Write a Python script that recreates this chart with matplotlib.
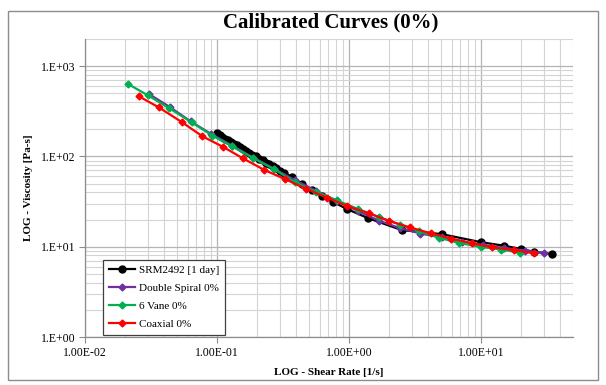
import matplotlib
matplotlib.use("Agg")
import matplotlib.pyplot as plt
from matplotlib.ticker import LogLocator, FuncFormatter, NullFormatter
from matplotlib.patches import Rectangle

plt.rcParams['font.family'] = ['Liberation Serif', 'DejaVu Serif']

title = "Calibrated Curves (0%)"
xlabel = "LOG - Shear Rate [1/s]"
ylabel = "LOG - Viscosity [Pa-s]"
series_names = ["SRM2492 [1 day]", "Double Spiral 0%", "6 Vane 0%", "Coaxial 0%"]

srm_x = [0.10, 0.105, 0.11, 0.116, 0.122, 0.128, 0.135, 0.142, 0.15, 0.158, 0.167,
         0.176, 0.186, 0.197, 0.21, 0.222, 0.236, 0.25, 0.265, 0.28, 0.30, 0.32,
         0.372, 0.442, 0.526, 0.625, 0.757, 0.966, 1.39, 2.51, 5.04, 10.1, 15.0,
         20.2, 25.3, 34.7]
srm_y = [180, 173, 166, 158, 152, 145.5, 139, 133, 127, 121, 116,
         110, 105, 100, 94.8, 90.4, 85.7, 81.6, 77.6, 74, 69.7, 65.9,
         59.5, 49.7, 42.7, 36.6, 31.4, 26.2, 20.8, 15.3, 13.8, 11.2, 10.26,
         9.43, 8.8, 8.3]

spiral_x = [0.0304, 0.0438, 0.0631, 0.0909, 0.131, 0.189, 0.272, 0.391, 0.564, 0.812,
            1.17, 1.68, 2.43, 3.49, 5.04, 7.25, 10.4, 15.0, 21.7, 30.1]
spiral_y = [494, 354, 245, 176.5, 131.5, 96.8, 73.0, 54.4, 41.6, 32.2,
            24.9, 19.5, 16.1, 14.0, 12.7, 11.4, 10.4, 9.68, 9.07, 8.51]

vane_x = [0.0211, 0.0299, 0.0431, 0.0642, 0.0925, 0.131, 0.189, 0.272, 0.391, 0.564,
          0.812, 1.17, 1.68, 2.43, 3.43, 4.86, 6.88, 10.1, 14.3, 19.9]
vane_y = [637, 476, 345, 239, 170, 129, 95.5, 72.1, 51.7, 40.5,
          32.6, 26.2, 21.4, 17.6, 14.9, 12.5, 11.0, 9.93, 9.31, 8.58]

coax_x = [0.0256, 0.0362, 0.054, 0.0777, 0.112, 0.158, 0.228, 0.329, 0.474, 0.682,
          0.966, 1.416, 2.0, 2.89, 4.16, 5.99, 8.63, 12.2, 17.9, 25.3]
coax_y = [464, 350, 241, 167, 127, 95, 71, 56, 43.8, 35,
          28.3, 23.5, 19.4, 16.4, 14.1, 12.3, 10.9, 9.85, 9.19, 8.45]

fig = plt.figure(figsize=(6.06, 3.85), dpi=100)
fig.patch.set_facecolor('white')
fig.add_artist(Rectangle((8/606, 1 - 380/385), 590/606, 369/385, transform=fig.transFigure,
                         fill=False, edgecolor='#8c8c8c', linewidth=1.0))

ax = fig.add_axes([85/606, 1 - 337/385, 488/606, 298/385])
ax.set_xscale('log')
ax.set_yscale('log')
ax.set_xlim(1e-2, 50)
ax.set_ylim(1, 2000)

ax.xaxis.set_major_locator(LogLocator(base=10, numticks=10))
ax.xaxis.set_minor_locator(LogLocator(base=10, subs=range(2, 10), numticks=20))
ax.yaxis.set_major_locator(LogLocator(base=10, numticks=10))
ax.yaxis.set_minor_locator(LogLocator(base=10, subs=range(2, 10), numticks=20))
ax.xaxis.set_major_formatter(FuncFormatter(lambda v, p: f"{v:.2E}"))
ax.yaxis.set_major_formatter(FuncFormatter(lambda v, p: f"{v:#.0E}"))
ax.xaxis.set_minor_formatter(NullFormatter())
ax.yaxis.set_minor_formatter(NullFormatter())

ax.grid(True, which='major', color='#b4b4b4', linewidth=0.9)
ax.grid(True, which='minor', color='#d4d4d4', linewidth=0.8)
ax.set_axisbelow(True)

for s in ['top', 'right']:
    ax.spines[s].set_visible(False)
for s in ['left', 'bottom']:
    ax.spines[s].set_color('#8c8c8c')
    ax.spines[s].set_linewidth(0.9)
ax.tick_params(which='major', length=4, color='#8c8c8c', labelsize=8.5, pad=3)
ax.tick_params(which='minor', length=0)

ax.plot(srm_x, srm_y, color='black', marker='o', markersize=5, linewidth=1.6,
        label=series_names[0], zorder=3)
ax.plot(spiral_x, spiral_y, color='#7030A0', marker='D', markersize=3.5, linewidth=1.6,
        label=series_names[1], zorder=4)
ax.plot(vane_x, vane_y, color='#00B050', marker='D', markersize=3.5, linewidth=1.6,
        label=series_names[2], zorder=5)
ax.plot(coax_x, coax_y, color='#FF0000', marker='D', markersize=3.5, linewidth=1.6,
        label=series_names[3], zorder=6)

leg = ax.legend(loc='lower left', bbox_to_anchor=(0.037, 0.007), fontsize=8,
                frameon=True, fancybox=False, framealpha=1, edgecolor='#404040',
                handlelength=2.4, handletextpad=0.3, borderpad=0.5, labelspacing=0.75,
                borderaxespad=0)
leg.get_frame().set_linewidth(0.9)

fig.text(331/606, 1 - 22/385, title, ha='center', va='center', fontsize=15, fontweight='bold')
ax.set_xlabel(xlabel, fontsize=8, fontweight='bold')
ax.set_ylabel(ylabel, fontsize=8, fontweight='bold')
ax.xaxis.set_label_coords(0.5, (337 - 368) / 298)
ax.yaxis.set_label_coords((33 - 85) / 488, 0.5)

fig.savefig('out.png', dpi=100, facecolor='white')
